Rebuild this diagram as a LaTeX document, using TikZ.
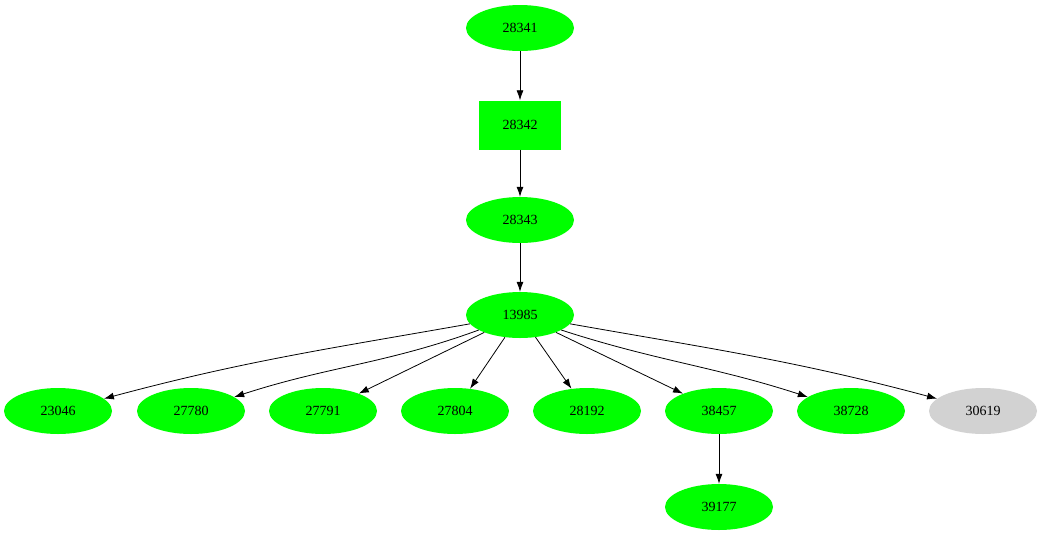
\documentclass[tikz,border=0pt]{standalone}
\usepackage{fontspec}
\setmainfont{Liberation Serif}
\usetikzlibrary{shapes.geometric,arrows.meta}
\begin{document}
\begin{tikzpicture}[x=1pt,y=-1pt,
  el/.style={ellipse,fill=green!100,inner sep=0pt,minimum width=108pt,minimum height=46pt,font=\fontsize{14}{16}\selectfont},
  gr/.style={el,fill=gray!35},
  bx/.style={rectangle,fill=green,inner sep=0pt,minimum width=82pt,minimum height=49pt,font=\fontsize{14}{16}\selectfont},
  ar/.style={-{Latex[length=10pt,width=7pt]},line width=0.8pt}]
\useasboundingbox (0,0) rectangle (1042,539);
\node[el] (a) at (520,28) {28341};
\node[bx] (b) at (520,125) {28342};
\node[el] (c) at (520,220) {28343};
\node[el] (d) at (520,315) {13985};
\node[el] (n1) at (58,411) {23046};
\node[el] (n2) at (191,411) {27780};
\node[el] (n3) at (323,411) {27791};
\node[el] (n4) at (455,411) {27804};
\node[el] (n5) at (587,411) {28192};
\node[el] (n6) at (719,411) {38457};
\node[el] (n7) at (851,411) {38728};
\node[gr] (n8) at (983,411) {30619};
\node[el] (n9) at (719,507) {39177};
\draw[ar] (a) -- (b);
\draw[ar] (b) -- (c);
\draw[ar] (c) -- (d);
\draw[ar] (d.190) to[out=190,in=15] (n1);
\draw[ar] (d.200) to[out=200,in=18] (n2);
\draw[ar] (d) -- (n3);
\draw[ar] (d) -- (n4);
\draw[ar] (d) -- (n5);
\draw[ar] (d) -- (n6);
\draw[ar] (d.-20) to[out=-18,in=162] (n7);
\draw[ar] (d.-10) to[out=-10,in=165] (n8);
\draw[ar] (n6) -- (n9);
\end{tikzpicture}
\end{document}
